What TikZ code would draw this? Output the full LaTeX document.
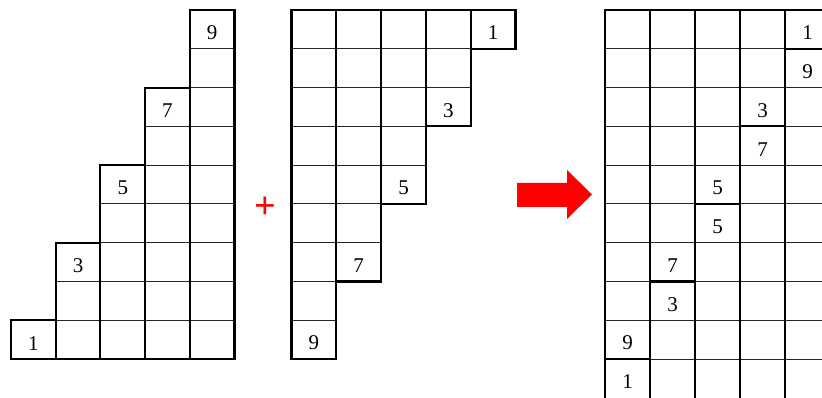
\documentclass[tikz,border=0pt]{standalone}
\usepackage{fontspec}
\setmainfont{Liberation Serif}
\begin{document}
\begin{tikzpicture}[x=1pt,y=-1pt,
  thinline/.style={line width=1pt,draw=black!85},
  thickline/.style={line width=2.1pt,draw=black},
  lbl/.style={inner sep=0pt,font=\fontsize{21}{21}\selectfont},
  redmark/.style={fill=red,draw=none}]
\useasboundingbox (0,0) rectangle (822,398);
\clip (0,0) rectangle (822,398);
\def\h{38.78}
% ---------- left staircase ----------
\foreach \c in {1,...,5}{
  \pgfmathsetmacro{\xl}{11+(\c-1)*44.7}
  \pgfmathsetmacro{\xr}{\xl+44.7}
  \pgfmathtruncatemacro{\tr}{11-2*\c}
  \pgfmathsetmacro{\yt}{10+(\tr-1)*\h}
  \foreach \r in {\tr,...,9}{
    \pgfmathsetmacro{\yy}{10+\r*\h}
    \draw[thinline] (\xl,\yy) -- (\xr,\yy);
  }
  \draw[thickline] (\xl,\yt) rectangle (\xr,359);
  \pgfmathtruncatemacro{\n}{2*\c-1}
  \node[lbl] (L\c) at ({\xl+22.35},{\yt+\h/2+3.5}) {\n};
}
% ---------- middle staircase ----------
\foreach \c in {1,...,5}{
  \pgfmathsetmacro{\xl}{291.5+(\c-1)*44.8}
  \pgfmathsetmacro{\xr}{\xl+44.8}
  \pgfmathtruncatemacro{\br}{11-2*\c}
  \pgfmathsetmacro{\yb}{10+\br*\h}
  \foreach \r in {1,...,\br}{
    \pgfmathsetmacro{\yy}{10+\r*\h}
    \draw[thinline] (\xl,\yy) -- (\xr,\yy);
  }
  \draw[thickline] (\xl,10) rectangle (\xr,\yb);
  \pgfmathtruncatemacro{\n}{11-2*\c}
  \node[lbl] (M\c) at ({\xl+22.4},{\yb-\h/2+3.5}) {\n};
}
% ---------- plus ----------
\node[inner sep=0pt,text=red,font=\fontsize{38}{38}\selectfont\bfseries] (plus) at (265,208) {+};
% ---------- arrow ----------
\fill[redmark] (517,183) -- (567,183) -- (567,170) -- (592,194.5) -- (567,219) -- (567,207) -- (517,207) -- cycle;
% ---------- right rectangle ----------
\foreach \c in {1,...,5}{
  \pgfmathsetmacro{\xl}{605+(\c-1)*45}
  \pgfmathsetmacro{\xr}{\xl+45}
  \pgfmathtruncatemacro{\sr}{11-2*\c}
  \pgfmathsetmacro{\ys}{10+\sr*\h}
  \foreach \r in {1,...,9}{
    \pgfmathsetmacro{\yy}{10+\r*\h}
    \draw[thinline] (\xl,\yy) -- (\xr,\yy);
  }
  \draw[thickline] (\xl,10) rectangle (\xr,410);
  \draw[thickline] (\xl,\ys) -- (\xr,\ys);
  \pgfmathtruncatemacro{\na}{11-2*\c}
  \pgfmathtruncatemacro{\nb}{2*\c-1}
  \node[lbl] (Ra\c) at ({\xl+22.5},{\ys-\h/2+3.5}) {\na};
  \node[lbl] (Rb\c) at ({\xl+22.5},{\ys+\h/2+3.5}) {\nb};
}
\end{tikzpicture}
\end{document}
